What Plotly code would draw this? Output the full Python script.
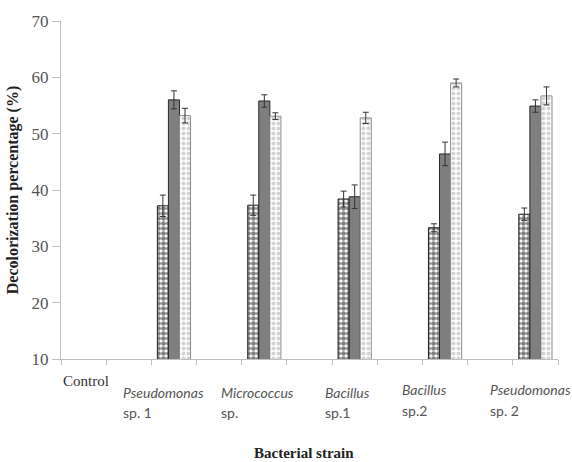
import plotly.graph_objects as go

# category slots: strains sit on even slots, blank slots between
strains = ["Control", "Pseudomonas sp. 1", "Micrococcus sp.", "Bacillus sp.1", "Bacillus sp.2", "Pseudomonas sp. 2"]
slot_pos = [0.5, 2.5, 4.5, 6.5, 8.5, 10.5]

series1 = [None, 37.2, 37.3, 38.4, 33.3, 35.7]
series1_err = [0, 1.9, 1.8, 1.4, 0.7, 1.1]
series2 = [None, 56.0, 55.8, 38.8, 46.4, 54.9]
series2_err = [0, 1.6, 1.1, 2.1, 2.1, 1.1]
series3 = [None, 53.2, 53.1, 52.8, 59.0, 56.7]
series3_err = [0, 1.3, 0.6, 1.0, 0.7, 1.6]

y_ticks = [10, 20, 30, 40, 50, 60, 70]

serif = "Liberation Serif, Times New Roman, serif"
sans = "Lato, Open Sans, sans-serif"

bw = 0.245
styles = [
    dict(y=series1, e=series1_err, color="white",
         pattern=dict(shape=".", fgcolor="black", bgcolor="white", size=5, solidity=0.7),
         line="#222"),
    dict(y=series2, e=series2_err, color="#7f7f7f", pattern=None, line="#2a2a2a"),
    dict(y=series3, e=series3_err, color="white",
         pattern=dict(shape=".", fgcolor="#a8a8a8", bgcolor="white", size=5, solidity=0.5),
         line="#8a8a8a"),
]

fig = go.Figure()
for i, s in enumerate(styles):
    marker = dict(color=s["color"], line=dict(color=s["line"], width=1))
    if s["pattern"]:
        marker["pattern"] = s["pattern"]
    fig.add_trace(go.Bar(
        x=slot_pos, y=s["y"], width=bw, offset=-1.5 * bw + i * bw,
        marker=marker,
        error_y=dict(type="data", array=s["e"], visible=True, color="#333", thickness=1, width=3),
        showlegend=False,
    ))

fig.update_layout(
    width=572, height=462,
    margin=dict(l=58, r=14, t=21, b=103),
    plot_bgcolor="white", paper_bgcolor="white",
    barmode="overlay",
)
fig.update_xaxes(
    range=[0, 11], tickvals=list(range(0, 12)), showticklabels=False,
    ticks="outside", ticklen=5, tickcolor="#bfbfbf",
    showline=True, linecolor="#bfbfbf", linewidth=1, showgrid=False, zeroline=False,
)
fig.update_yaxes(
    range=[10, 70], tickvals=y_ticks,
    ticks="outside", ticklen=8, tickcolor="#bfbfbf",
    showline=True, linecolor="#bfbfbf", linewidth=1, showgrid=False, zeroline=False,
    tickfont=dict(family=serif, size=17, color="#555"),
    title=dict(text="<b>Decolorization percentage (%)</b>", font=dict(family=serif, size=16, color="#222"), standoff=8),
)

# category labels (placed like the original)
label_specs = [
    ("Control", None, 0.0, 381, serif, False),
    ("Pseudomonas", "sp. 1", 1.32, 392, sans, True),
    ("Micrococcus", "sp.", 3.5, 392, sans, True),
    ("Bacillus", "sp.1", 5.79, 392, sans, True),
    ("Bacillus", "sp.2", 7.5, 390, sans, True),
    ("Pseudomonas", "sp. 2", 9.44, 390, sans, True),
]
def py2paper(py):
    return (359 - py) / 338.0

for l1, l2, xx, py, fam, ital in label_specs:
    txt = f"<i>{l1}</i>" if ital else l1
    fig.add_annotation(x=xx, xref="x", y=py2paper(py), yref="paper", text=txt,
                       showarrow=False, xanchor="left", yanchor="middle",
                       font=dict(family=fam, size=15 if not ital else 14, color="#555" if ital else "#333"))
    if l2:
        fig.add_annotation(x=xx, xref="x", y=py2paper(py + 20), yref="paper", text=l2,
                           showarrow=False, xanchor="left", yanchor="middle",
                           font=dict(family=fam, size=14, color="#555"))

fig.add_annotation(x=(302 - 58) / 500.0, xref="paper", y=py2paper(453), yref="paper",
                   text="<b>Bacterial strain</b>",
                   showarrow=False, xanchor="center", yanchor="middle",
                   font=dict(family=serif, size=15, color="#222"))

fig.write_html("out.html")
